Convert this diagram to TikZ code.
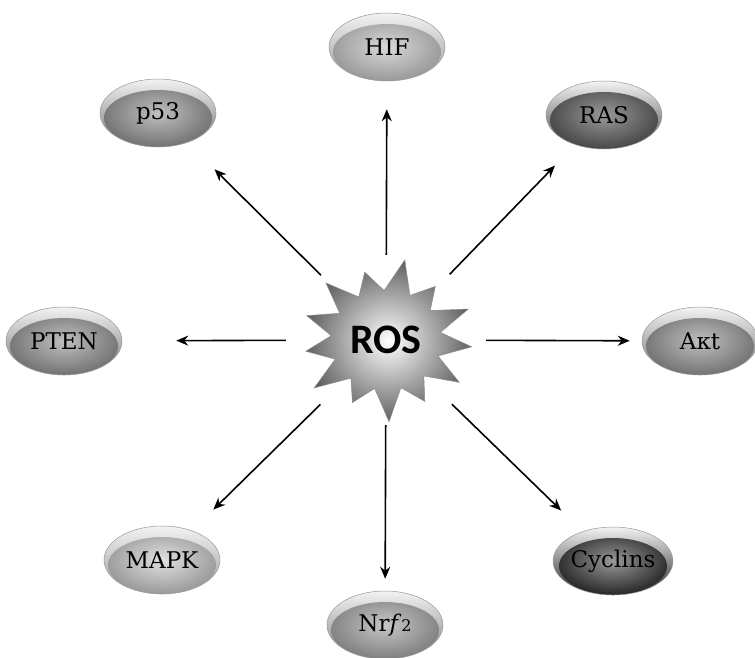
\documentclass[tikz,border=0pt]{standalone}
\usepackage{fontspec}
\setmainfont{DejaVu Serif}
\newfontfamily\rosfont{Carlito}
\usetikzlibrary{shapes.geometric,arrows.meta,calc}
\begin{document}
\begin{tikzpicture}[x=1pt,y=-1pt,
 pill/.style 2 args={ellipse, minimum width=116pt, minimum height=68pt, inner sep=0pt,
   draw=black!40, line width=0.5pt, top color=black!5, bottom color=black!#2,
   font=\fontsize{23}{27}\selectfont,
   path picture={\shade[inner color=black!#1, outer color=black!#2]
     ([yshift=-5pt]path picture bounding box.center) ellipse [x radius=54pt, y radius=28pt];}},
 arr/.style={line width=1.6pt, -{Stealth[length=12pt,width=10pt]}},
]
\fill[white] (0,0) rectangle (755,657);
\useasboundingbox (0,0) rectangle (755,657);

\coordinate (c) at (386,340);
% star
\shade[inner color=white, outer color=black!62, draw=black!45, line width=0.5pt]
  ($(c)+(5:86 and 78)$)
  \foreach \k [evaluate=\k as \r using {isodd(\k)?55:(84+7*sin(\k*77))}] in {1,...,25}
   { -- ($(c)+({\k*360/26+5}:{\r} and {\r*0.9})$) } -- cycle;

\node[ellipse, minimum width=200pt, minimum height=170pt, inner sep=0pt,
  font=\rosfont\bfseries\fontsize{42}{46}\selectfont] (ros) at (c) {ROS};

\node[pill={15}{40}] (hif) at (387,47) {HIF};
\node[pill={25}{55}] (p53) at (158,113) {p53};
\node[pill={40}{72}] (ras) at (604,115) {RAS};
\node[pill={25}{55}] (pten) at (64,341) {PTEN};
\node[pill={25}{55}] (akt) at (700,341) {Aκt};
\node[pill={12}{40}] (mapk) at (162,560) {MAPK};
\node[pill={22}{50}] (nrf) at (385,625) {Nr\textit{f}{\fontsize{16}{16}\selectfont 2}};
\node[pill={40}{85}] (cyc) at (613,561) {Cyclins};

\draw[arr, shorten >=28pt] (ros) -- (hif);
\draw[arr, shorten >=38pt] (ros) -- (p53);
\draw[arr, shorten >=29pt] (ros) -- (ras);
\draw[arr, shorten >=54pt] (ros) -- (pten);
\draw[arr, shorten >=12pt] (ros) -- (akt);
\draw[arr, shorten >=30pt] (ros) -- (mapk);
\draw[arr, shorten >=12pt] (ros) -- (nrf);
\draw[arr, shorten >=30pt] (ros) -- (cyc);
\end{tikzpicture}
\end{document}
